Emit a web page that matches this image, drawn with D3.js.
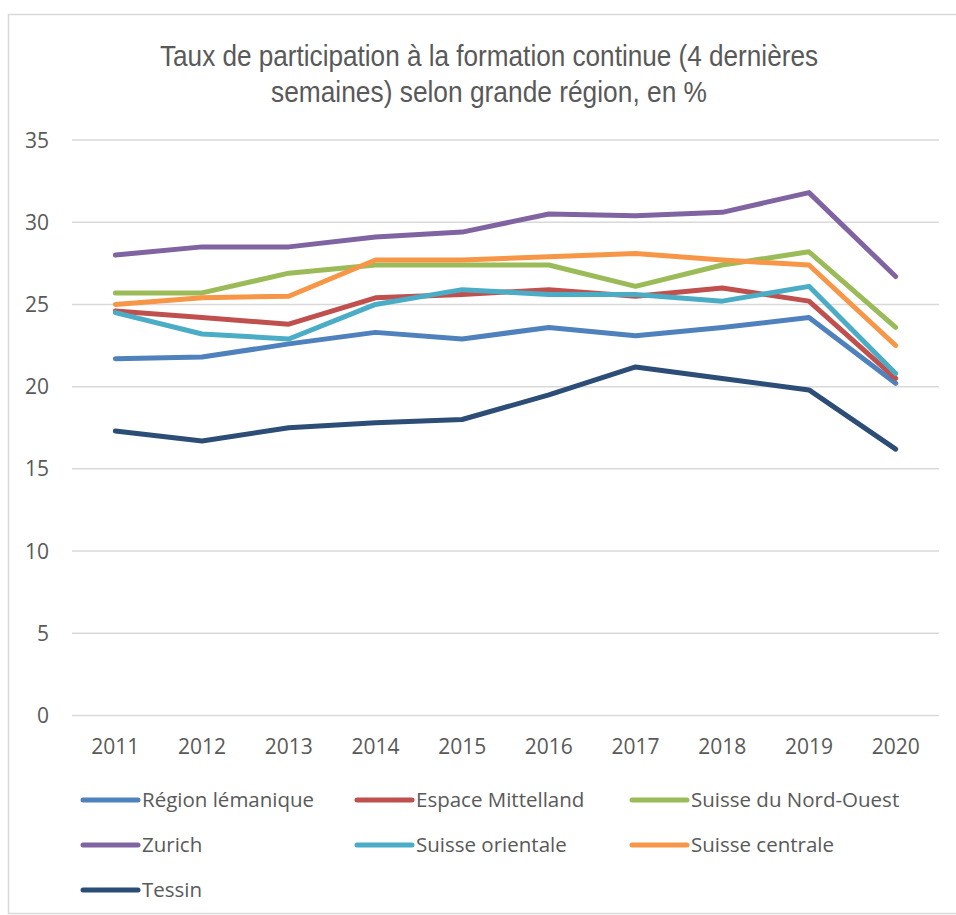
<!DOCTYPE html>
<html>
<head>
<meta charset="utf-8">
<script src="https://cdn.jsdelivr.net/npm/d3@7"></script>
<style>
  body { margin: 0; background: #fff; }
  text { fill: #595959; }
</style>
</head>
<body>
<svg id="chart" width="956" height="915"></svg>
<script>
// years on the x axis
const years = ['2011', '2012', '2013', '2014', '2015', '2016', '2017', '2018', '2019', '2020']

// one array per region
const regionLemanique = [21.7, 21.8, 22.6, 23.3, 22.9, 23.6, 23.1, 23.6, 24.2, 20.2]
const espaceMittelland = [24.6, 24.2, 23.8, 25.4, 25.6, 25.9, 25.5, 26.0, 25.2, 20.5]
const nordOuest = [25.7, 25.7, 26.9, 27.4, 27.4, 27.4, 26.1, 27.4, 28.2, 23.6]
const zurich = [28.0, 28.5, 28.5, 29.1, 29.4, 30.5, 30.4, 30.6, 31.8, 26.7]
const suisseOrientale = [24.5, 23.2, 22.9, 25.0, 25.9, 25.6, 25.6, 25.2, 26.1, 20.8]
const suisseCentrale = [25.0, 25.4, 25.5, 27.7, 27.7, 27.9, 28.1, 27.7, 27.4, 22.5]
const tessin = [17.3, 16.7, 17.5, 17.8, 18.0, 19.5, 21.2, 20.5, 19.8, 16.2]

const seriesNames = ['Région lémanique', 'Espace Mittelland', 'Suisse du Nord-Ouest',
  'Zurich', 'Suisse orientale', 'Suisse centrale', 'Tessin']
const seriesValues = [regionLemanique, espaceMittelland, nordOuest,
  zurich, suisseOrientale, suisseCentrale, tessin]
const colors = ['#4f81bd', '#c0504d', '#9bbb59', '#8064a2', '#4bacc6', '#f79646', '#2c4d75']

const yTicks = [0, 5, 10, 15, 20, 25, 30, 35]

const series = seriesNames.map((name, i) => ({
  name,
  color: colors[i],
  values: seriesValues[i]
}))

const svg = d3.select('#chart')
const font = "'Open Sans', sans-serif"

// outer chart frame
svg.append('rect')
  .attr('x', 8.5).attr('y', 14.5)
  .attr('width', 1000).attr('height', 899)
  .attr('fill', 'none')
  .attr('stroke', '#d9d9d9')
  .attr('stroke-width', 1.5)

// title, squeezed to the narrow width of the original
const title = svg.append('text')
  .attr('text-anchor', 'middle')
  .style('font-family', "'Liberation Sans', sans-serif")
  .style('font-size', '29px')
title.append('tspan').attr('x', 489).attr('y', 66)
  .attr('textLength', 658).attr('lengthAdjust', 'spacingAndGlyphs')
  .text('Taux de participation à la formation continue (4 dernières')
title.append('tspan').attr('x', 489).attr('y', 102)
  .attr('textLength', 436).attr('lengthAdjust', 'spacingAndGlyphs')
  .text('semaines) selon grande région, en %')

const x = d3.scalePoint()
  .domain(years)
  .range([72, 939])
  .padding(0.5)

const y = d3.scaleLinear()
  .domain([0, 35])
  .range([715.5, 140])

// horizontal gridlines
svg.append('g')
  .selectAll('line')
  .data(yTicks)
  .join('line')
  .attr('x1', 72).attr('x2', 939)
  .attr('y1', d => y(d)).attr('y2', d => y(d))
  .attr('stroke', '#d9d9d9')
  .attr('stroke-width', 1.5)

// y axis labels
svg.append('g')
  .selectAll('text')
  .data(yTicks)
  .join('text')
  .attr('x', 49)
  .attr('y', d => y(d))
  .attr('dy', '0.36em')
  .attr('text-anchor', 'end')
  .style('font-family', font)
  .style('font-size', '21px')
  .text(d => d)

// x axis labels
svg.append('g')
  .selectAll('text')
  .data(years)
  .join('text')
  .attr('x', d => x(d))
  .attr('y', 754)
  .attr('text-anchor', 'middle')
  .style('font-family', font)
  .style('font-size', '21px')
  .text(d => d)

// the lines
const line = d3.line()
  .x((d, i) => x(years[i]))
  .y(d => y(d))

svg.append('g')
  .selectAll('path')
  .data(series)
  .join('path')
  .attr('d', d => line(d.values))
  .attr('fill', 'none')
  .attr('stroke', d => d.color)
  .attr('stroke-width', 5)
  .attr('stroke-linecap', 'round')
  .attr('stroke-linejoin', 'round')

// legend, three columns
const colX = [83, 357, 632]
const rowY = [800, 845, 890]

const legend = svg.append('g')
  .selectAll('g')
  .data(series)
  .join('g')
  .attr('transform', (d, i) => `translate(${colX[i % 3]},${rowY[Math.floor(i / 3)]})`)

legend.append('line')
  .attr('x1', 0).attr('x2', 55)
  .attr('stroke', d => d.color)
  .attr('stroke-width', 5)
  .attr('stroke-linecap', 'round')

legend.append('text')
  .attr('x', 59)
  .attr('dy', '0.36em')
  .style('font-family', font)
  .style('font-size', '20.5px')
  .text(d => d.name)
</script>
</body>
</html>
